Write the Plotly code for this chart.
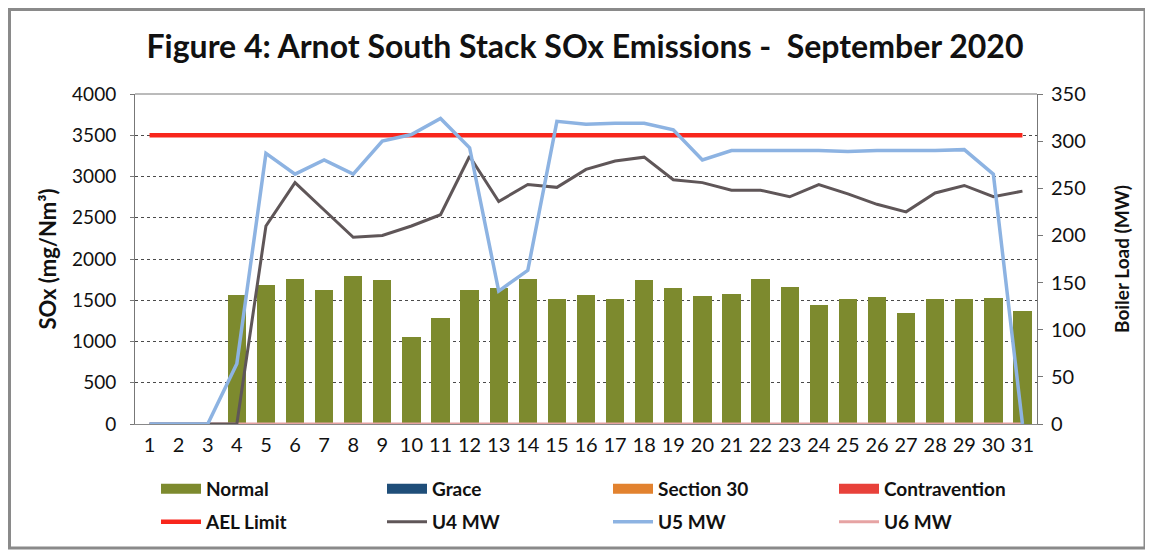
import plotly.graph_objects as go

days = [str(i) for i in range(1, 32)]

normal = [0, 0, 0, 1560, 1690, 1760, 1630, 1790, 1740, 1060, 1280, 1620, 1645, 1760, 1515,
          1560, 1515, 1750, 1650, 1550, 1575, 1755, 1655, 1445, 1515, 1545, 1345, 1520, 1520, 1530, 1370]
grace = [0] * 31
section30 = [0] * 31
contravention = [0] * 31
ael_limit = [3500] * 31
u4_mw = [0, 0, 0, 0, 210, 256, 227, 198, 200, 210, 222, 284, 236, 254, 251,
         270, 279, 283, 259, 256, 248, 248, 241, 254, 244, 233, 225, 245, 253, 241, 247]
u5_mw = [0, 0, 0, 64, 287, 265, 280, 265, 300, 307, 324, 293, 141, 163, 321,
         318, 319, 319, 312, 280, 290, 290, 290, 290, 289, 290, 290, 290, 291, 265, 0]
u6_mw = [0] * 31

C_NORMAL = "#7d8a2e"
C_GRACE = "#1f4e79"
C_S30 = "#e2822f"
C_CONTRA = "#e8413a"
C_AEL = "#f8261c"
C_U4 = "#5f5658"
C_U5 = "#8db3e2"
C_U6 = "#e6a3a3"

FONT = "Lato"

fig = go.Figure()

bar_series = [("Normal", normal, C_NORMAL), ("Grace", grace, C_GRACE),
              ("Section 30", section30, C_S30), ("Contravention", contravention, C_CONTRA)]
for name, vals, col in bar_series:
    fig.add_trace(go.Bar(x=days, y=vals, name=name, marker=dict(color=col, line=dict(width=0)),
                         showlegend=False, yaxis="y"))
    # legend proxy with wide rectangular symbol
    fig.add_trace(go.Scatter(x=[None], y=[None], mode="lines", name=name,
                             line=dict(color=col, width=11), legend="legend"))

fig.add_trace(go.Scatter(x=days, y=u6_mw, name="U6 MW", mode="lines",
                         line=dict(color=C_U6, width=3), yaxis="y2", showlegend=False))
fig.add_trace(go.Scatter(x=days, y=ael_limit, name="AEL Limit", mode="lines",
                         line=dict(color=C_AEL, width=4.5), yaxis="y", legend="legend2"))
fig.add_trace(go.Scatter(x=days, y=u4_mw, name="U4 MW", mode="lines",
                         line=dict(color=C_U4, width=3), yaxis="y2", legend="legend2"))
fig.add_trace(go.Scatter(x=days, y=u5_mw, name="U5 MW", mode="lines",
                         line=dict(color=C_U5, width=3.5), yaxis="y2", legend="legend2"))
fig.add_trace(go.Scatter(x=[None], y=[None], name="U6 MW", mode="lines",
                         line=dict(color=C_U6, width=3), legend="legend2"))

# page body has an 8px margin: lay the figure out so it lands on target page pixels
OFF = 8
W, H = 1153 - OFF, 557 - OFF
L = 135 - OFF
T = 94 - OFF
R = W - (1037 - OFF)
B = H - (424 - OFF)
pw, ph = W - L - R, H - T - B

def px_x(p):
    return (p - OFF - L) / pw

def px_y(p):
    return (H - B - (p - OFF)) / ph

legend_common = dict(orientation="h", xanchor="left", yanchor="middle",
                     entrywidth=171, entrywidthmode="pixels", itemwidth=40,
                     font=dict(family=FONT, size=19, color="#111111", weight="bold"),
                     bgcolor="rgba(0,0,0,0)", traceorder="normal")

fig.update_layout(
    width=W, height=H,
    margin=dict(l=L, r=R, t=T, b=B, autoexpand=False),
    paper_bgcolor="white", plot_bgcolor="white",
    barmode="stack", bargap=0.37,
    title=dict(text="<b>Figure 4: Arnot South Stack SOx Emissions -  September 2020</b>",
               x=(585 - OFF) / W, xanchor="center", y=1 - (47 - OFF) / H, yanchor="middle",
               yref="container",
               font=dict(family=FONT, size=32, color="#111111")),
    xaxis=dict(type="category", tickfont=dict(family=FONT, size=20, color="#111111"),
               showgrid=False, showline=True, linecolor="#888888", linewidth=1,
               ticks="", ticklabelstandoff=3, automargin=False),
    yaxis=dict(range=[0, 4000], dtick=500, tickfont=dict(family=FONT, size=19, color="#111111"),
               showgrid=True, gridcolor="#4a4a4a", griddash="dot", gridwidth=1,
               showline=True, linecolor="#777777", linewidth=1, mirror=False,
               ticks="outside", ticklen=4, tickcolor="#777777", zeroline=False,
               ticklabelstandoff=10, automargin=False,
               title=dict(text="<b>SOx (mg/Nm³)</b>", font=dict(family=FONT, size=22, color="#111111"),
                          standoff=9)),
    yaxis2=dict(range=[0, 350], dtick=50, overlaying="y", side="right",
                tickfont=dict(family=FONT, size=20, color="#111111"), showgrid=False,
                showline=True, linecolor="#777777", linewidth=1,
                ticks="outside", ticklen=5, tickcolor="#777777", zeroline=False,
                ticklabelstandoff=4, automargin=False,
                title=dict(text="<b>Boiler Load (MW)</b>", font=dict(family=FONT, size=19, color="#111111"),
                           standoff=30)),
    legend=dict(x=px_x(156), y=px_y(489), **legend_common),
    legend2=dict(x=px_x(156), y=px_y(522), **legend_common),
    shapes=[
        dict(type="rect", xref="paper", yref="paper",
             x0=px_x(9.5), x1=px_x(1145), y0=px_y(548), y1=px_y(9.5),
             line=dict(color="#8a8a8a", width=3), fillcolor="rgba(0,0,0,0)", layer="below"),
        dict(type="line", xref="paper", yref="paper", x0=0, x1=1, y0=1, y1=1,
             line=dict(color="#777777", width=1)),
    ],
)

fig.write_html("out.html")
